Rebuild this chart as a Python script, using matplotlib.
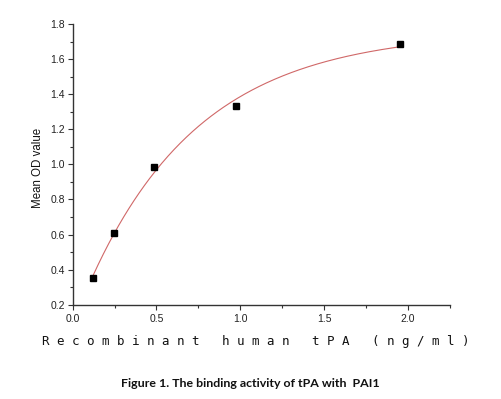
import numpy as np
import matplotlib
matplotlib.use("Agg")
import matplotlib.pyplot as plt
from matplotlib.ticker import MultipleLocator

# Data
conc = [0.122, 0.244, 0.487, 0.975, 1.95]
od = [0.35, 0.61, 0.987, 1.331, 1.685]

x_ticks = [0.0, 0.5, 1.0, 1.5, 2.0]
y_ticks = [0.2, 0.4, 0.6, 0.8, 1.0, 1.2, 1.4, 1.6, 1.8]

x_label = "R e c o m b i n a n t   h u m a n   t P A   ( n g / m l )"
y_label = "Mean OD value"
caption = "Figure 1. The binding activity of tPA with  PAI1"

# Exponential saturation fit y = y0 + A*exp(-x/t), fitted to the data
xa = np.array(conc)
ya = np.array(od)
best = None
for t in np.linspace(0.1, 3.0, 2901):
    M = np.column_stack([np.ones_like(xa), np.exp(-xa / t)])
    coef, res, *_ = np.linalg.lstsq(M, ya, rcond=None)
    err = np.sum((M @ coef - ya) ** 2)
    if best is None or err < best[0]:
        best = (err, t, coef)
_, t_fit, (y0_fit, a_fit) = best
xf = np.linspace(xa[0], xa[-1], 300)
yf = y0_fit + a_fit * np.exp(-xf / t_fit)

fig = plt.figure(figsize=(5.01, 3.99), dpi=100)
ax = fig.add_axes([0.145, 0.2363, 0.753, 0.7035])

ax.plot(xf, yf, color="#d06868", lw=0.8, zorder=2)
ax.plot(conc, od, linestyle="none", marker="s", markersize=5, color="black", zorder=3)

ax.set_xlim(0, 2.25)
ax.set_ylim(0.2, 1.8)
ax.set_xticks(x_ticks)
ax.set_yticks(y_ticks)
ax.xaxis.set_minor_locator(MultipleLocator(0.25))
ax.yaxis.set_minor_locator(MultipleLocator(0.1))
ax.set_xticklabels([f"{v:.1f}" for v in x_ticks], fontfamily="Liberation Sans", fontsize=7.5, color="#222222")
ax.set_yticklabels([f"{v:.1f}" for v in y_ticks], fontfamily="Liberation Sans", fontsize=7.5, color="#222222")
ax.tick_params(which="major", direction="out", length=3.5, width=0.8, color="#333333", pad=2)
ax.tick_params(axis="x", which="major", pad=3)
ax.tick_params(which="minor", direction="out", length=2, width=0.8, color="#333333")
for s in ["top", "right"]:
    ax.spines[s].set_visible(False)
for s in ["left", "bottom"]:
    ax.spines[s].set_linewidth(1.0)
    ax.spines[s].set_color("#333333")

fig.text(0.076, 0.579, y_label, rotation=90, ha="center", va="center",
         fontfamily="Liberation Sans", fontsize=8.3, color="#111111")
fig.text(0.510, 0.145, x_label, ha="center", va="center",
         fontfamily="DejaVu Sans Mono", fontsize=9, color="#111111")
fig.text(0.499, 0.038, caption, ha="center", va="center",
         fontfamily="Lato", fontweight="bold", fontsize=8.9, color="#111111")

fig.savefig("out.png", dpi=100)
